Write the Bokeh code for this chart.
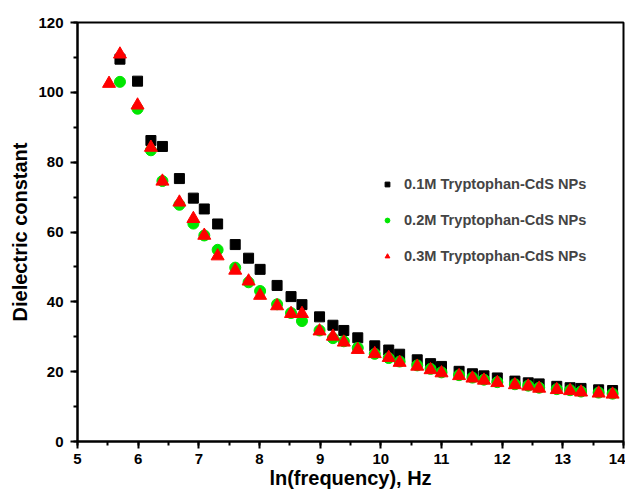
from bokeh.plotting import figure
from bokeh.embed import file_html
from bokeh.resources import INLINE
from bokeh.models import SingleIntervalTicker, Legend, LegendItem

# ln(frequency) values
x_01 = [5.70, 5.99, 6.21, 6.40, 6.68, 6.91, 7.09, 7.31, 7.60, 7.82, 8.01, 8.29, 8.52, 8.70,
        8.99, 9.21, 9.39, 9.62, 9.90, 10.13, 10.31, 10.60, 10.82, 11.00, 11.29, 11.51, 11.70,
        11.92, 12.21, 12.43, 12.61, 12.90, 13.12, 13.30, 13.59, 13.82]
y_01 = [109.5, 103.2, 86.2, 84.5, 75.3, 69.7, 66.6, 62.3, 56.4, 52.5, 49.3, 44.7, 41.5, 39.2,
        35.7, 33.3, 31.8, 29.7, 27.4, 26.2, 25.0, 23.4, 22.3, 21.5, 20.1, 19.4, 18.8,
        18.2, 17.3, 16.8, 16.5, 15.8, 15.4, 15.2, 14.8, 14.6]

x_02 = [5.70, 5.99, 6.21, 6.40, 6.68, 6.91, 7.09, 7.31, 7.60, 7.82, 8.01, 8.29, 8.52, 8.70,
        8.99, 9.21, 9.39, 9.62, 9.90, 10.13, 10.31, 10.60, 10.82, 11.00, 11.29, 11.51, 11.70,
        11.92, 12.21, 12.43, 12.61, 12.90, 13.12, 13.30, 13.59, 13.82]
y_02 = [103.0, 95.3, 83.4, 74.6, 67.8, 62.4, 59.0, 54.9, 49.8, 45.6, 43.1, 39.3, 36.8, 34.5,
        31.8, 29.6, 28.7, 26.8, 25.1, 23.9, 22.9, 21.8, 20.8, 19.8, 19.0, 18.3, 17.7,
        17.0, 16.4, 16.0, 15.4, 15.0, 14.7, 14.3, 14.0, 13.7]

x_03 = [5.52, 5.70, 5.99, 6.21, 6.40, 6.68, 6.91, 7.09, 7.31, 7.60, 7.82, 8.01, 8.29, 8.52, 8.70,
        8.99, 9.21, 9.39, 9.62, 9.90, 10.13, 10.31, 10.60, 10.82, 11.00, 11.29, 11.51, 11.70,
        11.92, 12.21, 12.43, 12.61, 12.90, 13.12, 13.30, 13.59, 13.82]
y_03 = [102.5, 110.9, 96.3, 84.2, 74.5, 68.5, 63.8, 59.0, 53.1, 49.0, 45.9, 41.8, 38.8, 36.6, 36.6,
        31.6, 30.1, 28.4, 26.3, 25.1, 24.0, 22.6, 21.5, 20.5, 19.6, 18.8, 18.1, 17.5,
        16.8, 16.2, 15.8, 15.2, 14.8, 14.5, 14.1, 13.8, 13.5]

labels = ["0.1M Tryptophan-CdS NPs", "0.2M Tryptophan-CdS NPs", "0.3M Tryptophan-CdS NPs"]

FONT = "Liberation Sans"

p = figure(width=625, height=492, x_range=(5, 14), y_range=(0, 120),
           output_backend="svg", toolbar_location=None,
           x_axis_label="ln(frequency), Hz", y_axis_label="Dielectric constant",
           min_border_left=77, min_border_right=2, min_border_top=22, min_border_bottom=51)
p.grid.visible = False
p.outline_line_color = "black"
p.outline_line_width = 2
p.background_fill_color = "white"
p.border_fill_color = "white"

p.xaxis.ticker = SingleIntervalTicker(interval=1, num_minor_ticks=2)
p.yaxis.ticker = SingleIntervalTicker(interval=20, num_minor_ticks=2)
for ax in (p.xaxis, p.yaxis):
    ax.axis_line_width = 2
    ax.major_tick_line_width = 2
    ax.minor_tick_line_width = 2
    ax.major_tick_out = 7
    ax.major_tick_in = 0
    ax.minor_tick_out = 4
    ax.minor_tick_in = 0
    ax.major_label_text_font = FONT
    ax.major_label_text_font_style = "bold"
    ax.major_label_text_font_size = "15px"
    ax.major_label_text_color = "black"
    ax.axis_label_text_font = FONT
    ax.axis_label_text_font_style = "bold"
    ax.axis_label_text_font_size = "20px"
    ax.axis_label_text_color = "black"
p.xaxis.major_label_standoff = 5
p.xaxis.axis_label_standoff = 0
p.yaxis.major_label_standoff = 7
p.yaxis.axis_label_standoff = 4

s1 = p.scatter(x_01, y_01, marker="square", size=10, fill_color="black", line_color="black")
s2 = p.scatter(x_02, y_02, marker="circle", size=11, fill_color="#00e600", line_color="#00e600")
s3 = p.scatter(x_03, y_03, marker="triangle", size=13, fill_color="red", line_color="red")

legend = Legend(items=[LegendItem(label=labels[0], renderers=[s1]),
                       LegendItem(label=labels[1], renderers=[s2]),
                       LegendItem(label=labels[2], renderers=[s3])],
                location=(304, 177))
legend.border_line_color = None
legend.background_fill_alpha = 0
legend.label_text_font = FONT
legend.label_text_font_style = "bold"
legend.label_text_font_size = "14.6px"
legend.glyph_width = 12
legend.glyph_height = 12
legend.label_standoff = 11
legend.spacing = 20
legend.padding = 5
p.add_layout(legend)

open("out.html", "w").write(file_html(p, INLINE))
